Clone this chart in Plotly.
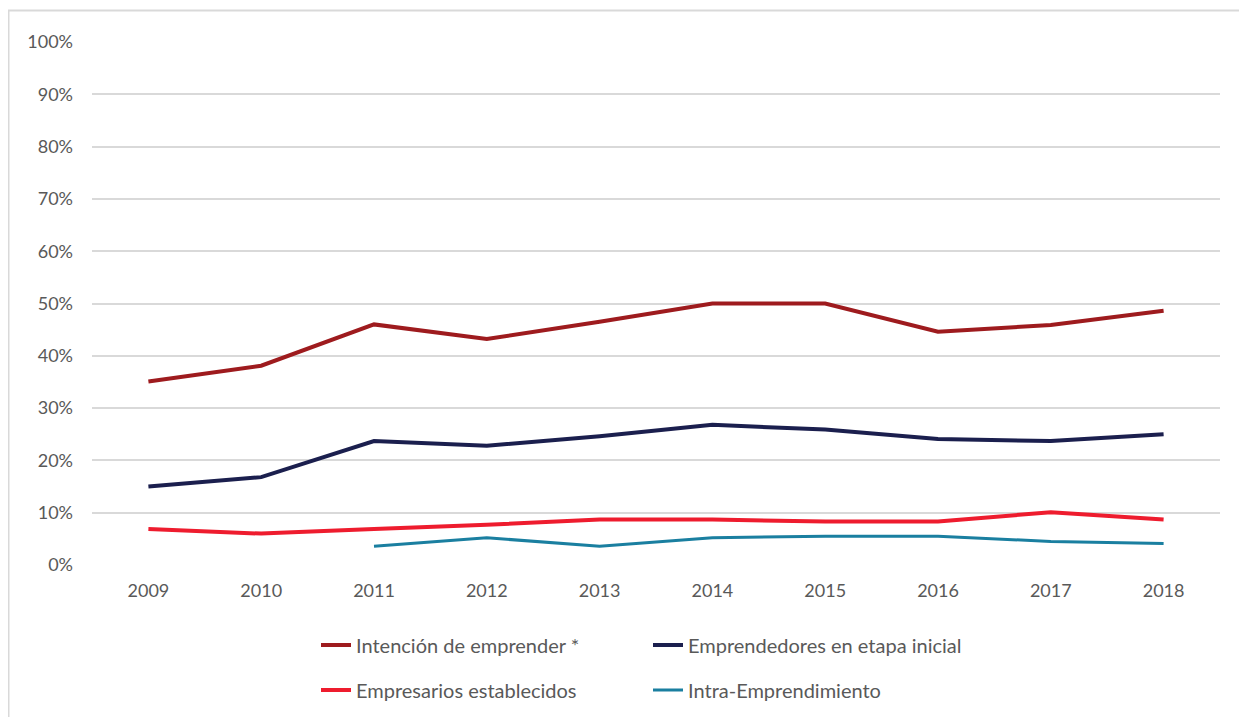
import plotly.graph_objects as go

years = ['2009', '2010', '2011', '2012', '2013', '2014', '2015', '2016', '2017', '2018']

intencion = [35.1, 38.1, 46.0, 43.2, 46.5, 50.0, 50.0, 44.6, 45.9, 48.6]
emprendedores = [15.0, 16.8, 23.7, 22.8, 24.6, 26.8, 25.9, 24.1, 23.7, 25.0]
establecidos = [6.9, 6.0, 6.9, 7.7, 8.7, 8.7, 8.3, 8.3, 10.1, 8.7]
intra = [None, None, 3.6, 5.2, 3.6, 5.2, 5.5, 5.5, 4.5, 4.1]

y_ticks = [0, 10, 20, 30, 40, 50, 60, 70, 80, 90, 100]
y_tick_labels = ['0%', '10%', '20%', '30%', '40%', '50%', '60%', '70%', '80%', '90%', '100%']

font_family = 'Lato, "Open Sans", sans-serif'
text_color = '#595959'

# plot area in page pixels (page has an 8px body margin)
PX0, PX1, PY0, PY1 = 92, 1220, 42, 565


def px(x):
    return (x - PX0) / (PX1 - PX0)


def py(y):
    return (PY1 - y) / (PY1 - PY0)


fig = go.Figure()

fig.add_trace(go.Scatter(x=years, y=intencion, mode='lines', name='Intención de emprender *',
                         line=dict(color='#9E1B1E', width=4), legend='legend'))
fig.add_trace(go.Scatter(x=years, y=emprendedores, mode='lines', name='Emprendedores en etapa inicial',
                         line=dict(color='#1B1F4E', width=4), legend='legend2'))
fig.add_trace(go.Scatter(x=years, y=establecidos, mode='lines', name='Empresarios establecidos',
                         line=dict(color='#EE1C2E', width=4), legend='legend3'))
fig.add_trace(go.Scatter(x=years, y=intra, mode='lines', name='Intra-Emprendimiento',
                         line=dict(color='#1A7FA0', width=3), legend='legend4'))

legend_style = dict(
    orientation='v',
    xanchor='left',
    yanchor='middle',
    font=dict(family=font_family, size=20, color=text_color),
    bgcolor='rgba(0,0,0,0)',
    itemwidth=30,
)

fig.update_layout(
    width=1247,
    height=717,
    margin=dict(l=PX0 - 8, r=1247 + 8 - PX1, t=PY0 - 8, b=717 + 8 - PY1),
    paper_bgcolor='white',
    plot_bgcolor='white',
    font=dict(family=font_family, size=18, color=text_color),
    showlegend=True,
    legend=dict(x=px(316), y=py(645), **legend_style),
    legend2=dict(x=px(648), y=py(645), **legend_style),
    legend3=dict(x=px(316), y=py(690), **legend_style),
    legend4=dict(x=px(648), y=py(690), **legend_style),
    xaxis=dict(
        type='category',
        range=[-0.5, 9.5],
        showgrid=False,
        showline=False,
        zeroline=False,
        ticks='',
        tickfont=dict(size=18, color=text_color),
        ticklabelstandoff=13,
    ),
    yaxis=dict(
        range=[0, 100],
        tickmode='array',
        tickvals=y_ticks,
        ticktext=y_tick_labels,
        showgrid=True,
        gridcolor='#D9D9D9',
        gridwidth=2,
        zeroline=False,
        showline=False,
        ticks='',
        tickfont=dict(size=18, color=text_color),
        ticklabelstandoff=18,
    ),
)

# light outline of the chart area, as in the original (runs off the right/bottom edge)
fig.add_shape(type='rect', xref='paper', yref='paper',
              x0=px(8.5), x1=px(1260), y0=py(740), y1=py(10.5),
              line=dict(color='#D9D9D9', width=2), fillcolor='rgba(0,0,0,0)', layer='below')

fig.write_html("out.html")
